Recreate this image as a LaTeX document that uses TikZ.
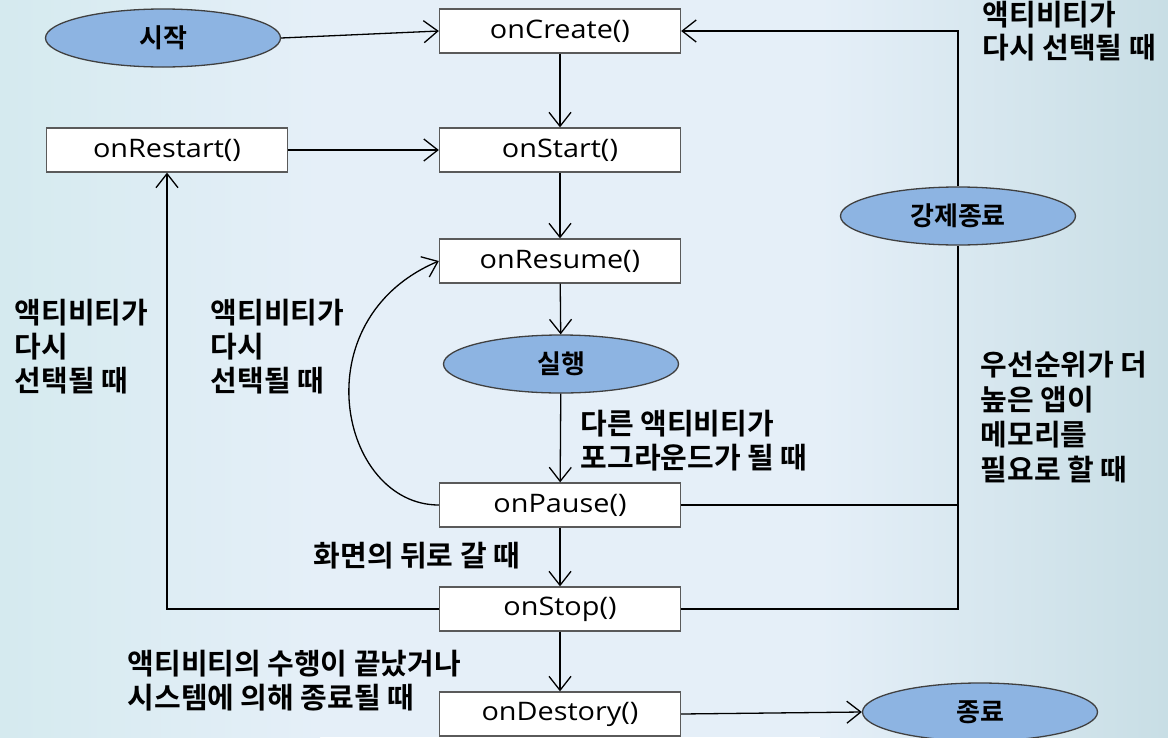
\documentclass[tikz,border=0pt]{standalone}
\usepackage{fontspec}
\setmainfont{Open Sans}[FakeStretch=1.13]
\newfontfamily\kor{Noto Sans CJK KR}[BoldFont={Noto Sans CJK KR Bold}]
\usepackage{tikz}
\usetikzlibrary{arrows.meta,shapes.geometric}
\definecolor{bgleft}{HTML}{D5EAEF}
\definecolor{bgmid}{HTML}{E5EFF8}
\definecolor{bgright}{HTML}{C8DEE5}
\definecolor{ovalblue}{HTML}{8DB4E2}
\definecolor{boxline}{HTML}{5A5A5A}
\tikzset{fn/.style={draw=boxline,fill=white,minimum width=241pt,minimum height=44pt,inner sep=0pt,font=\fontsize{25.5}{30}\selectfont},state/.style={ellipse,draw=black!75,fill=ovalblue,minimum width=235pt,minimum height=58pt,inner sep=0pt,font=\kor\bfseries\fontsize{26}{30}\selectfont},arr/.style={-{Straight Barb[length=14pt,width=22pt]},line width=1.3pt},lbl/.style={font=\kor\bfseries\fontsize{29}{34}\selectfont,align=left,anchor=west,inner sep=0pt}}

\begin{document}
\begin{tikzpicture}[x=1pt,y=-1pt,line width=1.3pt]
\useasboundingbox (0,0) rectangle (1168,737);
\shade[left color=bgleft,right color=bgmid] (0,0) rectangle (320,737);
\fill[bgmid] (320,0) rectangle (820,737);
\shade[left color=bgmid,right color=bgright] (820,0) rectangle (1168,737);
\node[state] (sijak) at (163,38) {시작};
\node[fn] (create) at (560,31) {onCreate()};
\node[fn] (start) at (560,150) {onStart()};
\node[fn] (restart) at (167,150) {onRestart()};
\node[fn] (resume) at (560,261) {onResume()};
\node[state] (run) at (561,364) {실행};
\node[fn] (pause) at (560,505) {onPause()};
\node[fn] (stop) at (560,609) {onStop()};
\node[fn] (destroy) at (560,714) {onDestory()};
\node[state] (kill) at (958,216) {강제종료};
\node[state] (finish) at (980,712) {종료};
\node[lbl,font=\kor\bfseries\fontsize{29}{33}\selectfont] (reselA) at (982,31) {액티비티가\\다시 선택될 때};
\node[lbl] (reselB) at (14,347) {액티비티가\\다시\\선택될 때};
\node[lbl] (reselC) at (210,347) {액티비티가\\다시\\선택될 때};
\node[lbl] (fore) at (580,441) {다른 액티비티가\\포그라운드가 될 때};
\node[lbl,font=\kor\bfseries\fontsize{29}{35}\selectfont] (mem) at (980,417) {우선순위가 더\\높은 앱이\\메모리를\\필요로 할 때};
\node[lbl] (back) at (313,556) {화면의 뒤로 갈 때};
\node[lbl] (done) at (127,681) {액티비티의 수행이 끝났거나\\시스템에 의해 종료될 때};
\draw[arr] (sijak.east)--(create.west);\draw[arr] (create)--(start);\draw[arr] (restart)--(start);
\draw[arr] (start)--(resume);\draw[arr] (resume)--(run);\draw[arr] (run)--(pause);
\draw[arr] (pause)--(stop);\draw[arr] (stop)--(destroy);\draw[arr] (destroy.east)--(finish.west);
\draw[arr] (pause.west) .. controls (340,505) and (300,320) .. (resume.west);
\draw[arr] (stop.west)-|(restart.south);
\draw[line width=2.4pt] (pause.east)-|(kill.south);\draw (stop.east)-|(kill.south);
\draw[arr] (kill.north)|-(create.east);
\end{tikzpicture}
\end{document}
